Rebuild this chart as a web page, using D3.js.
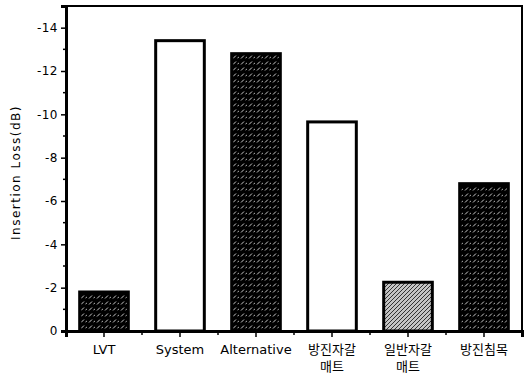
<!DOCTYPE html>
<html>
<head>
<meta charset="utf-8">
<script src="https://cdn.jsdelivr.net/npm/d3@7/dist/d3.min.js"></script>
<style>
  html, body { margin: 0; padding: 0; background: #fff; }
  svg { display: block; }
  text { font-family: "DejaVu Sans", "Noto Sans CJK KR", sans-serif; fill: #000; }
</style>
</head>
<body>
<svg id="chart" width="526" height="378"></svg>
<script>
// Measured insertion loss per track type (magnitude, dB)
const categories = ["LVT", "System", "Alternative", "방진자갈 매트", "일반자갈 매트", "방진침목"];
const categoryLines = [["LVT"], ["System"], ["Alternative"], ["방진자갈", "매트"], ["일반자갈", "매트"], ["방진침목"]];
const lossValues = [1.8, 13.4, 12.8, 9.65, 2.25, 6.8];
const yTickValues = [0, 2, 4, 6, 8, 10, 12, 14];
const yTickLabels = ["0", "-2", "-4", "-6", "-8", "-10", "-12", "-14"];
const yAxisTitle = "Insertion Loss(dB)";

// Fill style of each bar
const barStyle = {
  "LVT": "url(#hatchDark)",
  "System": "#fff",
  "Alternative": "url(#hatchDark)",
  "방진자갈 매트": "#fff",
  "일반자갈 매트": "url(#hatchLight)",
  "방진침목": "url(#hatchDark)"
};

const svg = d3.select("#chart");
const margin = { left: 66, right: 4, top: 6, bottom: 47 };
const W = 526, H = 378;

const x = d3.scaleBand().domain(categories).range([margin.left, W - margin.right]).padding(0);
const y = d3.scaleLinear().domain([0, 15]).range([H - margin.bottom, margin.top]);

// Hatch patterns
const defs = svg.append("defs");
const dark = defs.append("pattern").attr("id", "hatchDark")
  .attr("patternUnits", "userSpaceOnUse").attr("width", 8).attr("height", 6);
dark.append("rect").attr("width", 8).attr("height", 6).attr("fill", "#000");
dark.append("path").attr("d", "M1,4.5 L4,1.5").attr("stroke", "#fff").attr("stroke-width", 0.8);
dark.append("path").attr("d", "M5.5,4 L7,3").attr("stroke", "#fff").attr("stroke-width", 0.7);

const light = defs.append("pattern").attr("id", "hatchLight")
  .attr("patternUnits", "userSpaceOnUse").attr("width", 4).attr("height", 4);
light.append("rect").attr("width", 4).attr("height", 4).attr("fill", "#c4c4c4");
light.append("path").attr("d", "M0,4 L4,0 M-1,1 L1,-1 M3,5 L5,3").attr("stroke", "#333").attr("stroke-width", 1);

// Bars
const barW = x.bandwidth() * 0.64;
svg.append("g").selectAll("rect").data(categories).join("rect")
  .attr("x", d => x(d) + (x.bandwidth() - barW) / 2)
  .attr("y", (d, i) => y(lossValues[i]))
  .attr("width", barW)
  .attr("height", (d, i) => y(0) - y(lossValues[i]))
  .attr("fill", d => barStyle[d])
  .attr("stroke", "#000")
  .attr("stroke-width", 3);

// Frame (top and right)
svg.append("path")
  .attr("d", `M${margin.left},${margin.top} H${W - margin.right} V${H - margin.bottom}`)
  .attr("fill", "none").attr("stroke", "#000").attr("stroke-width", 2);

// Y axis
const yAxis = d3.axisLeft(y).tickValues(yTickValues)
  .tickFormat((d, i) => yTickLabels[i]).tickSize(5).tickPadding(3);
const gy = svg.append("g").attr("transform", `translate(${margin.left},0)`).call(yAxis);
gy.select(".domain").attr("stroke-width", 3);
gy.selectAll(".tick line").attr("stroke-width", 1.5);
gy.selectAll(".tick text").style("font-size", "12px").style("letter-spacing", "0.5px");
// Minor ticks at odd values
svg.append("g").selectAll("line").data(d3.range(1, 15, 2)).join("line")
  .attr("x1", margin.left - 3).attr("x2", margin.left)
  .attr("y1", d => y(d)).attr("y2", d => y(d))
  .attr("stroke", "#000").attr("stroke-width", 1.5);

// X axis
const gx = svg.append("g").attr("transform", `translate(0,${H - margin.bottom})`)
  .call(d3.axisBottom(x).tickSize(6).tickFormat(""));
gx.select(".domain").attr("stroke-width", 3);
gx.selectAll(".tick line").attr("stroke-width", 1.5);
// Minor ticks at band boundaries
svg.append("g").selectAll("line").data(categories.slice(1)).join("line")
  .attr("x1", d => x(d)).attr("x2", d => x(d))
  .attr("y1", H - margin.bottom).attr("y2", H - margin.bottom + 4)
  .attr("stroke", "#000").attr("stroke-width", 1.5);

// Category labels
const lab = svg.append("g").selectAll("text").data(categories).join("text")
  .attr("text-anchor", "middle")
  .attr("x", d => x(d) + x.bandwidth() / 2)
  .attr("y", H - margin.bottom + 23)
  .style("font-size", "13px");
lab.each(function(d, i) {
  d3.select(this).selectAll("tspan").data(categoryLines[i]).join("tspan")
    .attr("x", x(d) + x.bandwidth() / 2)
    .attr("dy", (t, j) => j === 0 ? 0 : 17)
    .text(t => t);
});

// Y axis title
svg.append("text")
  .attr("transform", `translate(20,${(margin.top + H - margin.bottom) / 2 + 4}) rotate(-90)`)
  .attr("text-anchor", "middle")
  .style("font-size", "12px")
  .style("letter-spacing", "1.5px")
  .text(yAxisTitle);
</script>
</body>
</html>
